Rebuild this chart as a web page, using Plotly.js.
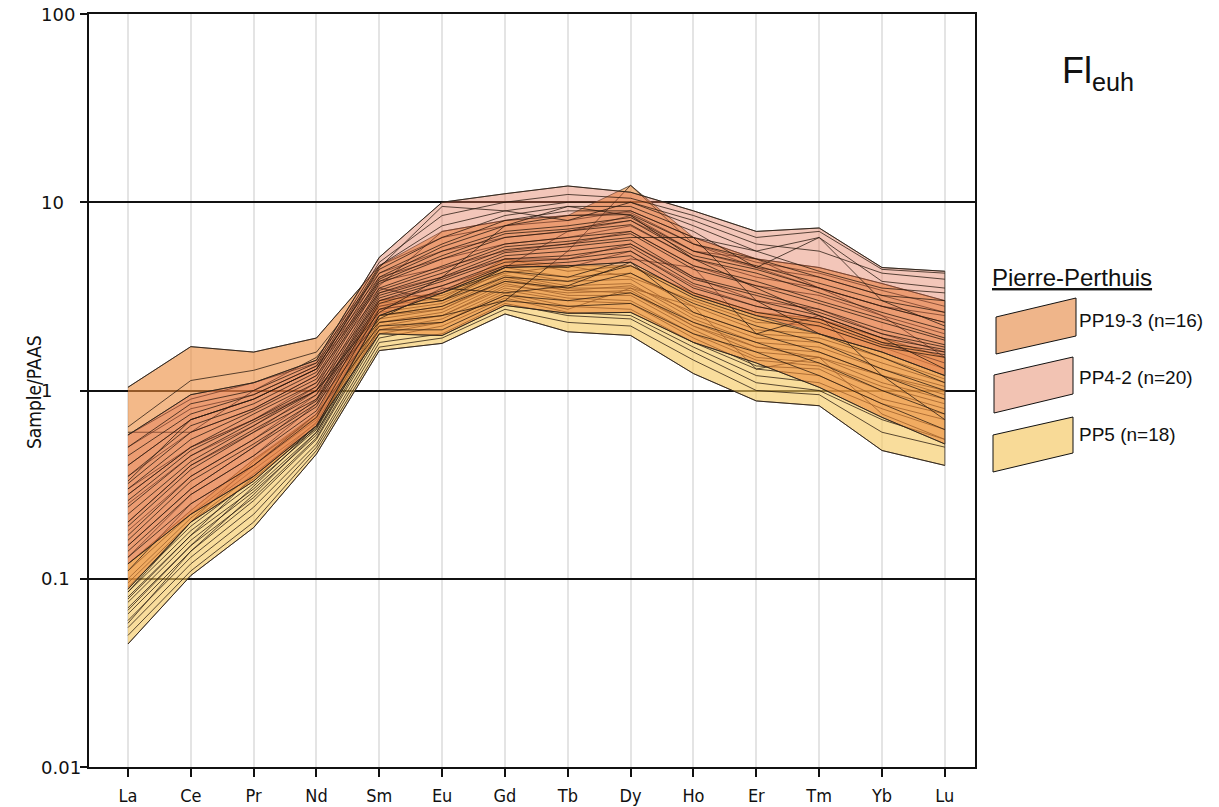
<!DOCTYPE html>
<html><head><meta charset="utf-8">
<script src="https://cdn.plot.ly/plotly-3.0.1.min.js"></script>
<style>html,body{margin:0;padding:0;background:#fff}#chart{width:1219px;height:807px}</style>
</head><body><div id="chart"></div>
<script>
// ---------- DATA ----------
const elements = ['La','Ce','Pr','Nd','Sm','Eu','Gd','Tb','Dy','Ho','Er','Tm','Yb','Lu'];
const yTickVals = [0.01, 0.1, 1, 10, 100];
const yTickText = ['0.01', '0.1', '1', '10', '100'];

// PP5 (n=18)  values: La..Lu, sample/PAAS
const pp5 = [
  [0.045,0.104,0.187,0.46,1.63,1.78,2.55,2.05,1.96,1.23,0.88,0.83,0.48,0.40],
  [0.050,0.11,0.20,0.48,1.70,1.90,2.70,2.30,2.20,1.45,1.00,0.95,0.60,0.50],
  [0.055,0.12,0.22,0.50,1.80,2.00,2.90,2.50,2.40,1.60,1.10,1.00,0.70,0.55],
  [0.060,0.13,0.24,0.52,1.90,2.20,3.10,2.60,2.50,1.70,1.20,1.10,0.80,0.62],
  [0.065,0.14,0.26,0.55,2.00,2.30,3.30,2.80,2.70,1.80,1.30,1.20,0.85,0.70],
  [0.070,0.15,0.27,0.56,2.10,2.40,3.40,3.00,2.90,1.90,1.35,1.30,0.90,0.75],
  [0.075,0.16,0.29,0.58,2.20,2.50,3.50,3.10,3.00,2.00,1.45,1.35,1.00,0.80],
  [0.080,0.17,0.30,0.60,2.30,2.60,3.70,3.20,3.20,2.10,1.50,1.40,1.05,0.85],
  [0.085,0.18,0.32,0.62,2.40,2.70,3.80,3.40,3.30,2.20,1.60,1.50,1.10,0.90],
  [0.090,0.19,0.34,0.63,2.50,2.80,4.00,3.50,3.50,2.30,1.70,1.60,1.20,1.00],
  [0.095,0.20,0.36,0.65,2.60,2.90,4.10,3.60,3.70,2.40,1.80,1.70,1.30,1.05],
  [0.100,0.21,0.38,0.67,2.70,3.00,4.30,3.80,3.90,2.50,1.90,1.80,1.40,1.10],
  [0.058,0.14,0.28,0.60,2.10,2.30,3.20,2.70,3.50,2.80,1.30,1.50,0.75,0.55],
  [0.068,0.15,0.31,0.64,2.30,2.50,3.60,3.30,3.40,2.20,1.70,1.50,1.20,0.95],
  [0.110,0.22,0.40,0.70,2.80,3.10,4.50,4.00,4.20,2.80,2.10,2.00,1.60,1.20],
  [0.120,0.23,0.43,0.72,2.90,3.20,4.20,4.60,4.00,3.00,2.30,2.20,1.70,1.30],
  [0.085,0.20,0.42,0.75,3.00,3.30,5.00,4.30,4.60,3.30,2.60,2.40,1.90,1.50],
  [0.078,0.17,0.35,0.68,2.50,2.70,3.90,3.40,3.60,2.60,2.00,1.90,1.50,1.15]
];

// PP19-3 (n=16)
const pp19_3 = [
  [1.04,1.71,1.60,1.90,4.60,6.50,7.50,8.00,9.00,6.50,5.00,4.50,3.70,3.00],
  [0.64,1.13,1.28,1.60,4.20,5.50,6.50,7.00,8.00,5.50,4.50,4.00,3.20,2.60],
  [0.60,0.60,1.00,1.50,4.00,5.00,6.00,6.50,7.50,5.00,4.00,3.50,2.80,2.30],
  [0.58,0.90,1.10,1.40,3.80,4.50,5.50,6.00,7.00,4.60,3.60,3.20,2.50,2.00],
  [0.40,0.70,0.90,1.30,3.50,3.00,4.50,7.00,8.50,5.50,5.00,3.50,2.80,2.50],
  [0.35,0.60,0.80,1.20,3.30,4.00,5.00,5.00,6.00,4.00,3.00,2.70,2.00,1.60],
  [0.30,0.50,0.70,1.00,2.30,2.50,3.00,5.50,12.3,6.00,4.50,3.50,2.50,1.50],
  [0.28,0.50,0.70,1.10,3.00,3.60,4.60,4.50,5.50,3.60,2.80,2.40,1.80,1.40],
  [0.25,0.45,0.65,1.05,2.80,3.30,4.30,4.00,5.00,4.50,2.00,2.50,1.20,0.70],
  [0.20,0.40,0.60,1.00,2.70,3.00,4.00,3.80,4.60,3.10,2.40,2.00,1.50,1.10],
  [0.18,0.35,0.55,0.95,2.50,2.80,3.80,3.50,4.20,2.90,2.20,1.80,1.30,1.00],
  [0.15,0.30,0.50,0.90,2.40,3.50,3.30,3.60,4.80,2.60,2.00,1.60,1.20,0.90],
  [0.13,0.28,0.45,0.85,2.20,2.30,3.20,3.00,3.30,2.30,1.80,1.40,1.00,0.75],
  [0.11,0.25,0.40,0.75,2.10,2.10,3.00,2.80,2.90,2.00,1.60,1.20,0.85,0.62],
  [0.088,0.20,0.33,0.65,2.00,1.96,2.83,2.57,2.60,1.80,1.40,1.04,0.72,0.52],
  [0.50,0.80,0.95,1.35,3.60,7.00,8.00,8.50,8.80,6.00,4.80,4.20,3.40,2.80]
];

// PP4-2 (n=20)
const pp4_2 = [
  [0.58,0.95,1.10,1.45,5.10,10.0,11.1,12.2,11.3,9.00,7.00,7.30,4.50,4.30],
  [0.50,0.85,1.00,1.40,4.80,8.50,10.0,11.0,10.5,8.50,6.50,7.00,4.40,4.20],
  [0.45,0.75,0.95,1.35,4.60,7.50,9.00,10.0,10.0,8.00,6.00,5.50,4.20,3.90],
  [0.40,0.70,0.90,1.30,4.40,6.50,8.50,9.50,9.50,7.00,4.50,6.50,3.00,2.20],
  [0.35,0.65,0.85,1.25,4.20,6.00,8.00,9.00,9.00,6.50,5.50,4.30,3.50,3.30],
  [0.32,0.60,0.80,1.20,4.00,5.80,7.50,8.50,8.60,6.00,5.00,4.00,3.20,3.00],
  [0.30,0.55,0.78,1.15,3.90,5.50,7.00,7.50,8.30,5.50,4.60,3.70,3.00,2.60],
  [0.28,0.50,0.75,1.10,3.80,5.20,6.80,7.20,8.00,5.20,4.40,3.50,2.80,2.30],
  [0.26,0.48,0.70,1.05,3.70,5.00,6.50,7.00,7.60,5.00,4.20,3.30,2.60,2.10],
  [0.24,0.45,0.68,1.00,2.60,4.00,7.50,9.50,8.50,5.00,3.50,2.50,1.90,1.30],
  [0.22,0.42,0.65,1.00,3.50,4.60,6.00,6.50,7.00,4.60,3.80,3.00,2.40,1.90],
  [0.20,0.40,0.62,0.95,3.40,4.40,5.80,6.20,6.80,4.40,3.60,2.90,2.30,1.85],
  [0.19,0.38,0.60,0.90,3.30,4.20,5.60,6.00,6.50,6.50,3.00,2.00,1.60,1.20],
  [0.17,0.35,0.55,0.88,3.20,4.00,5.40,5.80,6.30,4.00,3.30,2.70,2.10,1.75],
  [0.16,0.33,0.52,0.85,3.10,3.90,5.20,5.50,6.00,3.90,3.20,2.60,2.00,1.70],
  [0.15,0.30,0.50,0.82,3.00,3.80,5.00,5.20,5.80,3.70,3.00,2.50,1.90,1.65],
  [0.14,0.28,0.45,0.78,2.90,3.60,4.80,5.00,5.50,3.50,2.80,2.40,1.80,1.60],
  [0.13,0.25,0.40,0.72,2.70,3.40,4.60,4.80,5.20,3.30,2.60,2.30,1.75,1.55],
  [0.12,0.22,0.35,0.65,2.50,3.30,4.50,4.60,4.80,3.20,2.50,2.20,1.70,1.50],
  [0.33,0.70,0.90,1.30,4.50,9.50,9.00,8.00,10.0,7.50,5.50,6.50,3.80,3.50]
];

const groupNames = ['PP19-3 (n=16)', 'PP4-2 (n=20)', 'PP5 (n=18)'];
const legendTitle = 'Pierre-Perthuis';

// ---------- STYLE ----------
const narrow = "'DejaVu Sans Condensed', 'Liberation Sans Narrow', 'Roboto', sans-serif";
const sans = "'Liberation Sans', Arial, sans-serif";
const groups = [
  {data: pp5,    fill: 'rgba(245,200,96,0.62)'},
  {data: pp19_3, fill: 'rgba(235,138,58,0.60)'},
  {data: pp4_2,  fill: 'rgba(224,112,80,0.40)'}
];
const traces = [];
groups.forEach(g => {
  const n = elements.length;
  const mx = [], mn = [];
  for (let i = 0; i < n; i++) {
    const col = g.data.map(s => s[i]);
    mx.push(Math.max(...col)); mn.push(Math.min(...col));
  }
  traces.push({
    type: 'scatter', mode: 'lines', x: elements.concat(elements.slice().reverse()),
    y: mx.concat(mn.slice().reverse()), fill: 'toself', fillcolor: g.fill,
    line: {color: 'rgba(80,70,60,0.85)', width: 1}, hoverinfo: 'skip', showlegend: false
  });
  g.data.forEach(s => traces.push({
    type: 'scatter', mode: 'lines', x: elements, y: s,
    line: {color: 'rgba(35,22,12,0.75)', width: 1}, showlegend: false
  }));
});

const L = 89, R = 975, T = 14, B = 767;
const px = X => (X - L) / (R - L);
const py = Y => (B - Y) / (B - T);
const path = pts => 'M' + pts.map(p => px(p[0]) + ',' + py(p[1])).join(' L') + ' Z';

const swatches = [
  {pts: [[996,317],[1076,298],[1076,336],[996,354]], color: '#EFB58A', ty: 320},
  {pts: [[994,375],[1073,357],[1073,394],[994,413]], color: '#F2C3B3', ty: 377},
  {pts: [[993,435],[1073,417],[1073,453],[993,472]], color: '#F8DA97', ty: 435}
];
const shapes = swatches.map(s => ({
  type: 'path', xref: 'paper', yref: 'paper', path: path(s.pts),
  fillcolor: s.color, line: {color: '#111', width: 1}
}));

const annotations = [];
yTickVals.forEach((v, i) => annotations.push({
  xref: 'paper', yref: 'y', x: px(39), y: Math.log10(v), xanchor: 'left', yanchor: 'middle',
  text: yTickText[i], showarrow: false, font: {family: "'DejaVu Sans', sans-serif", size: 18, color: '#111'}
}));
annotations.push({
  xref: 'paper', yref: 'paper', x: px(21), y: py(392), textangle: -90,
  text: 'Sample/PAAS', showarrow: false, font: {family: narrow, size: 19, color: '#111'}
});
annotations.push({
  xref: 'paper', yref: 'paper', x: px(1060), y: py(73), xanchor: 'left', yanchor: 'middle',
  text: 'Fl<sub>euh</sub>', showarrow: false, font: {family: sans, size: 36, color: '#111'}
});
annotations.push({
  xref: 'paper', yref: 'paper', x: px(990), y: py(277), xanchor: 'left', yanchor: 'middle',
  text: '<u>' + legendTitle + '</u>', showarrow: false, font: {family: sans, size: 24, color: '#111'}
});
groupNames.forEach((t, i) => annotations.push({
  xref: 'paper', yref: 'paper', x: px(1077), y: py(swatches[i].ty), xanchor: 'left', yanchor: 'middle',
  text: t, showarrow: false, font: {family: sans, size: 19, color: '#111'}
}));

const layout = {
  width: 1219, height: 807,
  margin: {l: L, r: 1219 - R, t: T, b: 807 - B},
  paper_bgcolor: '#fff', plot_bgcolor: '#fff',
  showlegend: false,
  xaxis: {
    type: 'category', categoryorder: 'array', categoryarray: elements,
    range: [-0.62, 13.48], showgrid: true, gridcolor: '#e4e4e4', gridwidth: 2,
    ticks: 'outside', ticklen: 8, tickwidth: 2, tickcolor: '#111',
    showline: true, linecolor: '#111', linewidth: 2, mirror: true,
    tickfont: {family: narrow, size: 18, color: '#111'}, ticklabelstandoff: 3,
    zeroline: false, fixedrange: true
  },
  yaxis: {
    type: 'log', range: [-2, 2], tickvals: yTickVals, ticktext: yTickText, showticklabels: false,
    showgrid: true, gridcolor: '#111', gridwidth: 2,
    ticks: 'outside', ticklen: 7, tickwidth: 2, tickcolor: '#111',
    showline: true, linecolor: '#111', linewidth: 2, mirror: true,
    zeroline: false, fixedrange: true
  },
  shapes: shapes,
  annotations: annotations
};
Plotly.newPlot('chart', traces, layout, {displayModeBar: false, staticPlot: true});
</script>
</body></html>
